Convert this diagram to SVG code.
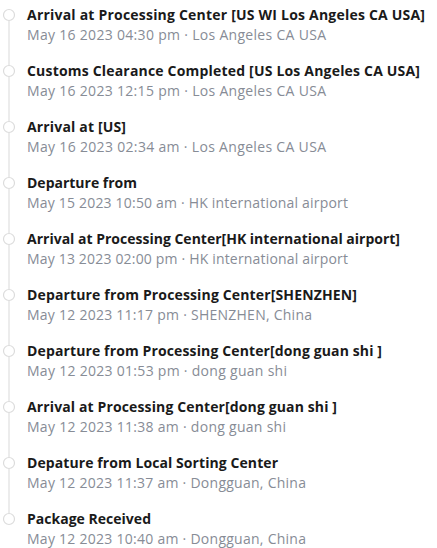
<svg xmlns="http://www.w3.org/2000/svg" width="437" height="548" viewBox="0 0 437 548">
<style>
.t{font-family:"Open Sans","Liberation Sans",sans-serif;font-size:14px;font-weight:bold;fill:#1a1a1a}
.s{font-family:"Open Sans","Liberation Sans",sans-serif;font-size:14px;fill:#878c96}
.dot{fill:#fff;stroke:#dcdcdc;stroke-width:1.2}
.ln{stroke:#e8e8e8;stroke-width:1.6}
</style>
<rect width="437" height="548" fill="#fff"/>
<g id="connectors">
<line class="ln" x1="9" y1="21" x2="9" y2="65"/>
<line class="ln" x1="9" y1="77" x2="9" y2="121"/>
<line class="ln" x1="9" y1="133" x2="9" y2="177"/>
<line class="ln" x1="9" y1="189" x2="9" y2="233"/>
<line class="ln" x1="9" y1="245" x2="9" y2="289"/>
<line class="ln" x1="9" y1="301" x2="9" y2="345"/>
<line class="ln" x1="9" y1="357" x2="9" y2="401"/>
<line class="ln" x1="9" y1="413" x2="9" y2="457"/>
<line class="ln" x1="9" y1="469" x2="9" y2="513"/>
</g>
<g id="n1"><circle class="dot" cx="9" cy="15" r="5.5"/><text class="t" x="27" y="20" textLength="398">Arrival at Processing Center [US WI Los Angeles CA USA]</text><text class="s" x="27" y="40" textLength="299">May 16 2023 04:30 pm · Los Angeles CA USA</text></g>
<g id="n2"><circle class="dot" cx="9" cy="71" r="5.5"/><text class="t" x="27" y="76" textLength="393">Customs Clearance Completed [US Los Angeles CA USA]</text><text class="s" x="27" y="96" textLength="299">May 16 2023 12:15 pm · Los Angeles CA USA</text></g>
<g id="n3"><circle class="dot" cx="9" cy="127" r="5.5"/><text class="t" x="27" y="132" textLength="99">Arrival at [US]</text><text class="s" x="27" y="152" textLength="299">May 16 2023 02:34 am · Los Angeles CA USA</text></g>
<g id="n4"><circle class="dot" cx="9" cy="183" r="5.5"/><text class="t" x="27" y="188" textLength="110">Departure from</text><text class="s" x="27" y="208" textLength="321">May 15 2023 10:50 am · HK international airport</text></g>
<g id="n5"><circle class="dot" cx="9" cy="239" r="5.5"/><text class="t" x="27" y="244" textLength="373">Arrival at Processing Center[HK international airport]</text><text class="s" x="27" y="264" textLength="321">May 13 2023 02:00 pm · HK international airport</text></g>
<g id="n6"><circle class="dot" cx="9" cy="295" r="5.5"/><text class="t" x="27" y="300" textLength="330">Departure from Processing Center[SHENZHEN]</text><text class="s" x="27" y="320" textLength="285">May 12 2023 11:17 pm · SHENZHEN, China</text></g>
<g id="n7"><circle class="dot" cx="9" cy="351" r="5.5"/><text class="t" x="27" y="356" textLength="355">Departure from Processing Center[dong guan shi ]</text><text class="s" x="27" y="376" textLength="260">May 12 2023 01:53 pm · dong guan shi</text></g>
<g id="n8"><circle class="dot" cx="9" cy="407" r="5.5"/><text class="t" x="27" y="412" textLength="310">Arrival at Processing Center[dong guan shi ]</text><text class="s" x="27" y="432" textLength="259">May 12 2023 11:38 am · dong guan shi</text></g>
<g id="n9"><circle class="dot" cx="9" cy="463" r="5.5"/><text class="t" x="27" y="468" textLength="251">Depature from Local Sorting Center</text><text class="s" x="27" y="488" textLength="279">May 12 2023 11:37 am · Dongguan, China</text></g>
<g id="n10"><circle class="dot" cx="9" cy="519" r="5.5"/><text class="t" x="27" y="524" textLength="124">Package Received</text><text class="s" x="27" y="544" textLength="279">May 12 2023 10:40 am · Dongguan, China</text></g>
</svg>
